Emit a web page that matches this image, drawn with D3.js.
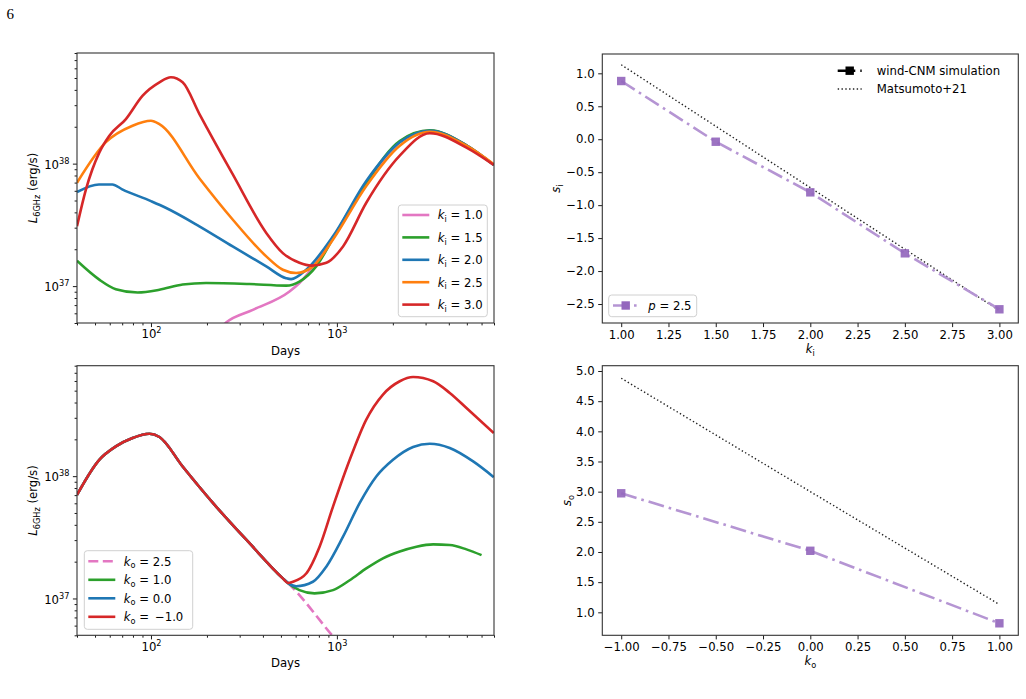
<!DOCTYPE html>
<html>
<head>
<meta charset="utf-8">
<script src="https://cdn.jsdelivr.net/npm/d3@7"></script>
<style>
  body { margin: 0; background: #fff; }
  text { font-family: "DejaVu Sans", sans-serif; }
</style>
</head>
<body>
<div id="fig"></div>
<script>
// ---- top-left: L_6GHz light curves for different k_i  [days, erg/s]
const ki10 = [[230,4.37e36],[253.6,5.04e36],[353,6.40e36],[556,9.04e36],[629,1.06e37],[774,1.55e37],[953,2.47e37],[1439,6.76e37],[2178,1.51e38],[3162,1.86e38],[4977,1.41e38],[6980,9.77e37]];
const ki15 = [[40,1.61e37],[52.7,1.13e37],[64.7,9.44e36],[84.8,8.87e36],[111,9.33e36],[148,1.03e37],[198,1.06e37],[339,1.04e37],[533,1.01e37],[629,1.09e37],[774,1.45e37],[953,2.45e37],[1439,6.98e37],[2178,1.53e38],[3162,1.87e38],[4977,1.41e38],[6980,9.77e37]];
const ki20 = [[40,5.86e37],[52.5,6.76e37],[62,6.76e37],[70,6.17e37],[100,4.94e37],[120,4.36e37],[182,3.08e37],[275,2.11e37],[417,1.45e37],[533,1.16e37],[567,1.14e37],[684,1.36e37],[953,2.55e37],[1439,7.21e37],[2178,1.49e38],[3162,1.85e38],[4977,1.41e38],[6980,9.75e37]];
const ki25 = [[40,6.98e37],[57,1.49e38],[79.6,2.04e38],[100,2.24e38],[111,2.10e38],[182,7.6e37],[275,3.50e37],[417,1.75e37],[512,1.36e37],[604,1.28e37],[743,1.45e37],[953,2.40e37],[1439,6.56e37],[2178,1.40e38],[3162,1.82e38],[4977,1.40e38],[6980,9.89e37]];
const ki30 = [[40,3.08e37],[44.7,6.17e37],[52.7,1.23e38],[59.7,1.69e38],[73.3,2.31e38],[90.2,3.59e38],[111,4.61e38],[128,5.07e38],[148,4.61e38],[182,2.55e38],[275,8.2e37],[417,2.72e37],[512,1.86e37],[629,1.55e37],[728,1.47e37],[878,1.55e37],[1079,2.11e37],[1439,4.79e37],[2178,1.16e38],[3162,1.77e38],[4977,1.35e38],[6980,9.75e37]];

// ---- bottom-left: light curves for different k_o (shared early part)
const koEarly = [[40,7.03e37],[52.7,1.36e38],[64.7,1.75e38],[79.6,2.05e38],[98,2.22e38],[111,2.09e38],[148,1.20e38],[224,5.64e37],[339,2.83e37],[512,1.46e37],[545,1.34e37]];
const ko25Late = [[953,4.9e36],[1000,4.5e36]];
const ko10Late = [[629,1.17e37],[758,1.10e37],[953,1.17e37],[1172,1.41e37],[1439,1.76e37],[1770,2.13e37],[2178,2.42e37],[2679,2.65e37],[3296,2.77e37],[4048,2.74e37],[4977,2.52e37],[6000,2.26e37]];
const ko00Late = [[604,1.26e37],[743,1.37e37],[877,1.82e37],[1079,3.20e37],[1325,6.01e37],[1629,9.93e37],[2004,1.36e38],[2570,1.73e38],[3162,1.84e38],[4048,1.70e38],[5408,1.32e38],[6980,9.82e37]];
const koM1Late = [[579,1.37e37],[684,1.60e37],[807,2.65e37],[953,5.64e37],[1172,1.36e38],[1439,2.90e38],[1770,4.65e38],[2178,5.97e38],[2570,6.47e38],[3296,5.97e38],[4048,4.79e38],[4977,3.61e38],[6980,2.25e38]];

// ---- right panels: spectral slopes
const kI = [1.0, 1.5, 2.0, 2.5, 3.0];
const sI = [0.883, -0.038, -0.806, -1.731, -2.58];
const sIMatsu = [1.13, 0.197, -0.735, -1.668, -2.6];
const kO = [-1.0, 0.0, 1.0];
const sO = [2.973, 2.02, 0.818];
const sOMatsu = [4.88, 3.0, 1.13];

// ---- ticks
const dayMajor = [100, 1000];
const dayMinor = [40,50,60,70,80,90,200,300,400,500,600,700,800,900,2000,3000,4000,5000,6000,7000];
const lumMajor = [1e37, 1e38];
const lumMinor = [5e36,6e36,7e36,8e36,9e36,2e37,3e37,4e37,5e37,6e37,7e37,8e37,9e37,2e38,3e38,4e38,5e38,6e38,7e38,8e38];
const kiTicks = [1.0,1.25,1.5,1.75,2.0,2.25,2.5,2.75,3.0];
const siTicks = [-2.5,-2.0,-1.5,-1.0,-0.5,0.0,0.5,1.0];
const koTicks = [-1.0,-0.75,-0.5,-0.25,0.0,0.25,0.5,0.75,1.0];
const soTicks = [1.0,1.5,2.0,2.5,3.0,3.5,4.0,4.5,5.0];

const C = {pink:"#e377c2", green:"#2ca02c", blue:"#1f77b4", orange:"#ff7f0e", red:"#d62728", purple:"#9467bd", purpleLine:"#b595d3"};
const FS = 11.7, LW = 2.6;

const svg = d3.select("#fig").append("svg")
    .attr("width", 1026).attr("height", 699)
    .style("background", "#fff");

svg.append("text").attr("x", 6.5).attr("y", 18.5)
   .style("font-family", "'Liberation Serif', 'DejaVu Serif', serif")
   .style("font-size", "15px").text("6");

// small mathtext helper: parts = [[text, style]], style: i italic, s subscript, S superscript
function mtext(sel, parts, size) {
    let shift = 0;
    parts.forEach(([t, st]) => {
        const target = st === "s" ? 0.24 * size : st === "S" ? -0.42 * size : 0;
        const ts = sel.append("tspan").text(t);
        if (target - shift !== 0) ts.attr("dy", target - shift);
        shift = target;
        if (st === "s" || st === "S") ts.attr("font-size", size * 0.7);
        if (st === "i") ts.attr("font-style", "italic");
    });
    return sel;
}

function panel(x0, x1, y0, y1, id) {
    const g = svg.append("g");
    g.append("clipPath").attr("id", id).append("rect")
     .attr("x", x0).attr("y", y0).attr("width", x1 - x0).attr("height", y1 - y0);
    return g;
}

function styleAxis(a) {
    a.select(".domain").remove();
    a.selectAll(".tick line").attr("stroke", "#000").attr("stroke-width", 0.9);
    a.selectAll(".tick text").attr("fill", "#000").style("font-size", FS + "px");
}

function frame(g, x0, x1, y0, y1) {
    g.append("rect").attr("x", x0).attr("y", y0).attr("width", x1 - x0).attr("height", y1 - y0)
     .attr("fill", "none").attr("stroke", "#333").attr("stroke-width", 1.1);
}

function powLabels(a) {
    a.selectAll(".tick text").each(function(d) {
        const t = d3.select(this).text("");
        mtext(t, [["10", ""], [String(Math.round(Math.log10(d))), "S"]], FS);
    });
}

function legendBox(g, x, y, w, h) {
    g.append("rect").attr("x", x).attr("y", y).attr("width", w).attr("height", h)
     .attr("rx", 3).attr("fill", "#fff").attr("fill-opacity", 0.8)
     .attr("stroke", "#d0d0d0").attr("stroke-width", 1);
}

// ---------- log light-curve panel
function lcPanel(x0, x1, y0, y1, id, series, leg) {
    const g = panel(x0, x1, y0, y1, id);
    const x = d3.scaleLog().domain([40, 7000]).range([x0, x1]);
    const y = d3.scaleLog().domain([5e36, 8e38]).range([y1, y0]);
    const line = d3.line().x(d => x(d[0])).y(d => y(d[1])).curve(d3.curveMonotoneX);

    const lines = g.append("g").attr("clip-path", `url(#${id})`);
    series.forEach(s => {
        lines.append("path").attr("d", line(s.data)).attr("fill", "none")
             .attr("stroke", s.color).attr("stroke-width", LW)
             .attr("stroke-dasharray", s.dash || null)
             .attr("stroke-linejoin", "round");
    });

    const ax = g.append("g").attr("transform", `translate(0,${y1})`)
        .call(d3.axisBottom(x).tickValues(dayMajor).tickSize(4.1).tickPadding(3));
    styleAxis(ax); powLabels(ax);
    const axm = g.append("g").attr("transform", `translate(0,${y1})`)
        .call(d3.axisBottom(x).tickValues(dayMinor).tickSize(2.4).tickFormat(""));
    styleAxis(axm);
    const ay = g.append("g").attr("transform", `translate(${x0},0)`)
        .call(d3.axisLeft(y).tickValues(lumMajor).tickSize(4.1).tickPadding(3.5));
    styleAxis(ay); powLabels(ay);
    ay.selectAll(".tick text").attr("dy", "0.4em");
    const aym = g.append("g").attr("transform", `translate(${x0},0)`)
        .call(d3.axisLeft(y).tickValues(lumMinor).tickSize(2.4).tickFormat(""));
    styleAxis(aym);
    frame(g, x0, x1, y0, y1);

    g.append("text").attr("x", (x0 + x1) / 2).attr("y", y1 + 32).attr("text-anchor", "middle")
     .style("font-size", FS + "px").text("Days");
    mtext(g.append("text").attr("transform", `translate(${x0 - 40},${(y0 + y1) / 2}) rotate(-90)`)
     .attr("text-anchor", "middle").style("font-size", FS + "px"),
     [["L", "i"], ["6GHz", "s"], [" (erg/s)", ""]], FS);

    // legend
    const lg = g.append("g");
    legendBox(lg, leg.x, leg.y, leg.w, leg.h);
    series.forEach((s, i) => {
        const yy = leg.y + leg.first + i * leg.step;
        lg.append("line").attr("x1", leg.x + 4).attr("x2", leg.x + 31).attr("y1", yy).attr("y2", yy)
          .attr("stroke", s.color).attr("stroke-width", LW).attr("stroke-dasharray", s.dash || null);
        mtext(lg.append("text").attr("x", leg.x + 39.5).attr("y", yy + 4.3).style("font-size", FS + "px"),
              s.label, FS);
    });
}

lcPanel(77, 494, 53, 323, "clipTL", [
    {data: ki10, color: C.pink,   label: [["k","i"],["i","s"],[" = 1.0",""]]},
    {data: ki15, color: C.green,  label: [["k","i"],["i","s"],[" = 1.5",""]]},
    {data: ki20, color: C.blue,   label: [["k","i"],["i","s"],[" = 2.0",""]]},
    {data: ki25, color: C.orange, label: [["k","i"],["i","s"],[" = 2.5",""]]},
    {data: ki30, color: C.red,    label: [["k","i"],["i","s"],[" = 3.0",""]]}
], {x: 398.3, y: 205, w: 89, h: 111.7, first: 10, step: 22.4});

lcPanel(77, 494, 365.7, 635.3, "clipBL", [
    {data: koEarly.concat(ko25Late), color: C.pink, dash: "10,4.5", label: [["k","i"],["o","s"],[" = 2.5",""]]},
    {data: koEarly.concat(ko10Late), color: C.green, label: [["k","i"],["o","s"],[" = 1.0",""]]},
    {data: koEarly.concat(ko00Late), color: C.blue,  label: [["k","i"],["o","s"],[" = 0.0",""]]},
    {data: koEarly.concat(koM1Late), color: C.red,   label: [["k","i"],["o","s"],[" =\u2002\u22121.0",""]]}
], {x: 84.3, y: 550.7, w: 108.4, h: 78.6, first: 10.6, step: 18.5});

// ---------- linear slope panels
function slopePanel(x0, x1, y0, y1, id, xd, yd, xt, yt, xs, ys, ms, xl, yl, ylx) {
    const g = panel(x0, x1, y0, y1, id);
    const x = d3.scaleLinear().domain(xd).range([x0, x1]);
    const y = d3.scaleLinear().domain(yd).range([y1, y0]);
    const pts = xs.map((v, i) => [v, ys[i]]);
    const mts = xs.map((v, i) => [v, ms[i]]);
    const line = d3.line().x(d => x(d[0])).y(d => y(d[1]));
    const lines = g.append("g").attr("clip-path", `url(#${id})`);
    lines.append("path").attr("d", line(mts)).attr("fill", "none")
         .attr("stroke", "#222").attr("stroke-width", 1.4).attr("stroke-dasharray", "1.4,2.4");
    lines.append("path").attr("d", line(pts)).attr("fill", "none")
         .attr("stroke", C.purpleLine).attr("stroke-width", LW).attr("stroke-dasharray", "16,5,2.6,5");
    lines.selectAll("rect.m").data(pts).enter().append("rect")
         .attr("x", d => x(d[0]) - 4.2).attr("y", d => y(d[1]) - 4.2)
         .attr("width", 8.4).attr("height", 8.4).attr("fill", C.purple).attr("fill-opacity", 0.92);

    const ax = g.append("g").attr("transform", `translate(0,${y1})`)
        .call(d3.axisBottom(x).tickValues(xt).tickSize(4.1).tickPadding(3.5).tickFormat(d3.format(".2f")));
    styleAxis(ax);
    const ay = g.append("g").attr("transform", `translate(${x0},0)`)
        .call(d3.axisLeft(y).tickValues(yt).tickSize(4.1).tickPadding(3.5).tickFormat(d3.format(".1f")));
    styleAxis(ay);
    frame(g, x0, x1, y0, y1);

    mtext(g.append("text").attr("x", (x0 + x1) / 2).attr("y", y1 + 30).attr("text-anchor", "middle")
     .style("font-size", FS + "px"), xl, FS);
    mtext(g.append("text").attr("transform", `translate(${ylx},${(y0 + y1) / 2}) rotate(-90)`)
     .attr("text-anchor", "middle").style("font-size", FS + "px"), yl, FS);
    return g;
}

const tr = slopePanel(602.3, 1018.3, 54, 323, "clipTR", [0.9, 3.1], [-2.788, 1.293], kiTicks, siTicks,
    kI, sI, sIMatsu, [["k","i"],["i","s"]], [["s","i"],["i","s"]], 560);
slopePanel(602.3, 1018.3, 365.7, 635.3, "clipBR", [-1.1, 1.1], [0.619, 5.088], koTicks, soTicks,
    kO, sO, sOMatsu, [["k","i"],["o","s"]], [["s","i"],["o","s"]], 571);

// legends of the top-right panel
const hl = tr.append("g");
hl.append("line").attr("x1", 837.7).attr("x2", 861.7).attr("y1", 70.7).attr("y2", 70.7)
  .attr("stroke", "#000").attr("stroke-width", LW).attr("stroke-dasharray", "10,5,2.6,5");
hl.append("rect").attr("x", 849.7 - 4.2).attr("y", 70.7 - 4.2).attr("width", 8.4).attr("height", 8.4).attr("fill", "#000");
hl.append("text").attr("x", 876.7).attr("y", 75).style("font-size", FS + "px").text("wind-CNM simulation");
hl.append("line").attr("x1", 837.7).attr("x2", 861.7).attr("y1", 89).attr("y2", 89)
  .attr("stroke", "#222").attr("stroke-width", 1.4).attr("stroke-dasharray", "1.4,2.4");
hl.append("text").attr("x", 876.7).attr("y", 93.3).style("font-size", FS + "px").text("Matsumoto+21");

const pl = tr.append("g");
legendBox(pl, 608.7, 295, 88, 21.7);
pl.append("line").attr("x1", 613).attr("x2", 640).attr("y1", 305.5).attr("y2", 305.5)
  .attr("stroke", C.purpleLine).attr("stroke-width", LW).attr("stroke-dasharray", "16,5,2.6,5");
pl.append("rect").attr("x", 625.7 - 4.2).attr("y", 305.5 - 4.2).attr("width", 8.4).attr("height", 8.4).attr("fill", C.purple);
mtext(pl.append("text").attr("x", 648.3).attr("y", 309.8).style("font-size", FS + "px"),
      [["p","i"],[" = 2.5",""]], FS);
</script>
</body>
</html>
